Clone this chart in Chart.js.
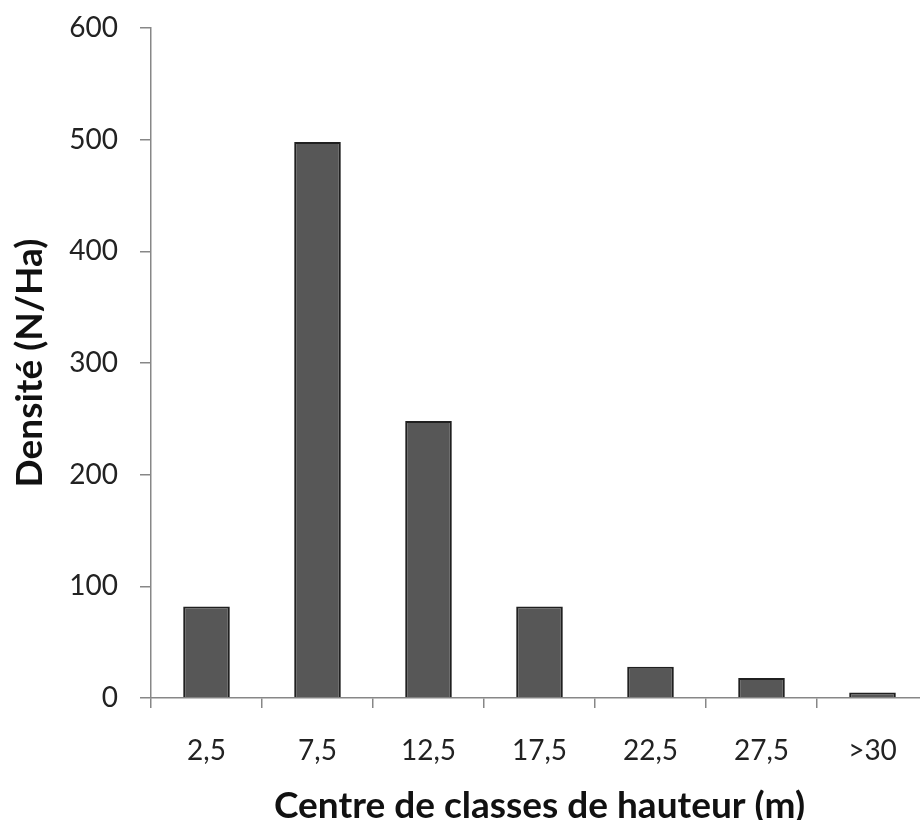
<!DOCTYPE html>
<html>
<head>
<meta charset="utf-8">
<script src="https://cdn.jsdelivr.net/npm/chart.js@4"></script>
<style>
  html, body { margin: 0; padding: 0; background: #fff; overflow: hidden; }
</style>
</head>
<body>
<canvas id="myChart" width="930" height="820"></canvas>
<script>
// données
const classes = ['2,5', '7,5', '12,5', '17,5', '22,5', '27,5', '>30'];
const densite = [82, 498, 248, 82, 28, 18, 5];
const yMin = 0;
const yMax = 600;
const yStep = 100;

const police = "Lato, 'Open Sans', sans-serif";
const gris = '#878787';

new Chart(document.getElementById('myChart'), {
  type: 'bar',
  data: {
    labels: classes,
    datasets: [{
      label: 'Densité',
      data: densite,
      backgroundColor: '#575757',
      borderColor: '#202020',
      borderWidth: 2,
      borderSkipped: 'bottom',
      categoryPercentage: 1,
      barPercentage: 0.42
    }]
  },
  options: {
    responsive: false,
    animation: false,
    layout: { padding: { top: 28, right: 2, left: 0, bottom: 0 } },
    plugins: {
      legend: { display: false },
      tooltip: { enabled: false }
    },
    scales: {
      x: {
        afterFit: scale => {
          scale.height = 122;
          scale.paddingLeft = 0;
          scale.paddingRight = 0;
        },
        border: { color: gris, width: 1.5 },
        grid: { drawOnChartArea: false, drawTicks: true, tickLength: 10, color: gris, lineWidth: 1.5 },
        ticks: { color: '#222', font: { family: police, size: 28 }, padding: 26 },
        title: {
          display: true,
          text: 'Centre de classes de hauteur (m)',
          color: '#111',
          font: { family: police, size: 37, weight: 'bold', lineHeight: 1 },
          padding: { top: 0, bottom: -5 }
        }
      },
      y: {
        min: yMin,
        max: yMax,
        afterFit: scale => {
          scale.width = 151;
          scale.paddingTop = 0;
          scale.paddingBottom = 0;
        },
        border: { color: gris, width: 1.5 },
        grid: { drawOnChartArea: false, drawTicks: true, tickLength: 11, color: gris, lineWidth: 1.5 },
        ticks: { stepSize: yStep, color: '#222', font: { family: police, size: 28 }, padding: 22 },
        title: {
          display: true,
          text: 'Densité (N/Ha)',
          color: '#111',
          font: { family: police, size: 37, weight: 'bold', lineHeight: 1 },
          padding: { top: 12, bottom: 0 }
        }
      }
    }
  }
});
</script>
</body>
</html>
